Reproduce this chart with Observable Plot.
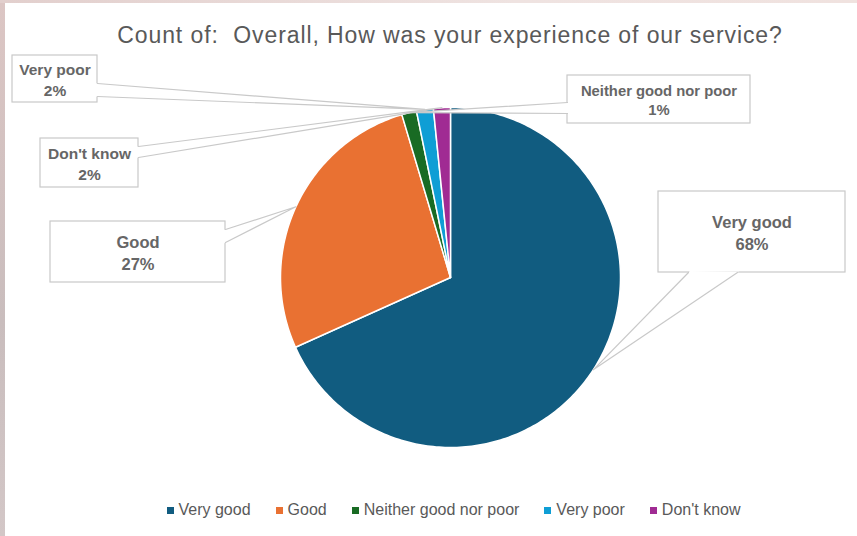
<!DOCTYPE html>
<html>
<head>
<meta charset="utf-8">
<script src="https://cdn.jsdelivr.net/npm/d3@7"></script>
<script src="https://cdn.jsdelivr.net/npm/@observablehq/plot@0.6"></script>
<style>
  html, body { margin: 0; padding: 0; background: #ffffff; }
  body { width: 857px; height: 536px; overflow: hidden; position: relative; font-family: "Liberation Sans", Arial, sans-serif; }
  #strip-left { position: absolute; left: 0; top: 0; width: 5px; height: 536px; background: linear-gradient(#dcc6c4, #c9bdbd 60%, #d3c7c7); }
  #strip-top { position: absolute; left: 0; top: 0; width: 857px; height: 3px; background: linear-gradient(90deg, #e2cfcd, #efe3e1 60%, #f0e2df); }
  #title { width: 900px; height: 28px; padding-top: 22px; line-height: 26px; text-align: center; font-size: 23px; letter-spacing: 0.9px; color: #595959; white-space: pre; }
  #chart { height: 440px; }
  #chart svg { display: block; }
  #legend { height: 46px; display: flex; align-items: center; justify-content: center; padding-left: 50px; box-sizing: border-box; width: 857px; margin-top: -3px; }
  #legend [class$="-swatch"] { margin-right: 25px !important; }
  #legend [class$="-swatch"]:last-child { margin-right: 0 !important; }
  #legend [class$="-swatch"] > svg { margin-right: 5px !important; }
  #legend > div { margin: 0 !important; min-height: 0 !important; }
</style>
</head>
<body>
<div id="title"></div>
<div id="chart"></div>
<div id="legend"></div>
<div id="strip-left"></div>
<div id="strip-top"></div>
<script>
// ---- data ----
const titleText = "Count of:  Overall, How was your experience of our service?";
const categories = ["Very good", "Good", "Neither good nor poor", "Very poor", "Don't know"];
const values = [68, 27, 1.4, 1.6, 1.6];
const percentLabels = ["68%", "27%", "1%", "2%", "2%"];
const colors = ["#115C80", "#E97132", "#196B24", "#0F9ED5", "#A02B93"];

// ---- layout (pixels within the svg) ----
const W = 857, H = 440, CX = 450, CY = 227, R = 170;
// callout boxes: [x0, y0, x1, y1], tail base points, font size
const calloutBoxes = [
  {box: [658, 141, 845, 222], base: [[688, 222], [737, 222]], size: 16.5},
  {box: [50, 171, 225, 232], base: [[225, 179], [225, 192]], size: 16.5},
  {box: [567, 25, 750, 73], base: [[567, 52], [567, 63]], size: 14.8},
  {box: [12, 5, 97, 52], base: [[97, 33], [97, 46]], size: 15.5},
  {box: [40, 88, 138, 137], base: [[138, 96], [138, 107]], size: 15.5}
];

document.getElementById("title").textContent = titleText;

// ---- slices ----
const total = d3.sum(values);
let acc = 0;
const slices = categories.map((c, i) => {
  const a0 = acc / total * 2 * Math.PI;
  acc += values[i];
  const a1 = acc / total * 2 * Math.PI;
  return {cat: c, a0, a1, mid: (a0 + a1) / 2};
});
const px = a => CX + R * Math.sin(a);
const py = a => CY - R * Math.cos(a);
const slicePts = [];
for (const s of slices) {
  slicePts.push({cat: s.cat, x: CX, y: CY});
  const n = Math.max(2, Math.ceil((s.a1 - s.a0) / (Math.PI / 180)));
  for (let k = 0; k <= n; k++) {
    const a = s.a0 + (s.a1 - s.a0) * k / n;
    slicePts.push({cat: s.cat, x: px(a), y: py(a)});
  }
}

// ---- callouts ----
const boxes = [], tailFill = [], tailLines = [], labels = [];
categories.forEach((c, i) => {
  const cb = calloutBoxes[i];
  const [x0, y0, x1, y1] = cb.box;
  boxes.push({x1: x0, x2: x1, y1: y0, y2: y1});
  const tip = {x: px(slices[i].mid), y: py(slices[i].mid)};
  const [b1, b2] = cb.base;
  const inward = b => {
    const dx = b[0] - tip.x, dy = b[1] - tip.y, l = Math.hypot(dx, dy);
    return [b[0] + dx / l * 2, b[1] + dy / l * 2];
  };
  const b1i = inward(b1), b2i = inward(b2);
  [b1i, b1, [tip.x, tip.y], b2, b2i].forEach(p => tailFill.push({id: c, x: p[0], y: p[1]}));
  [b1, [tip.x, tip.y], b2].forEach(p => tailLines.push({id: c, x: p[0], y: p[1]}));
  labels.push({x: (x0 + x1) / 2, y: (y0 + y1) / 2, text: c + "\n" + percentLabels[i], size: cb.size});
});

const chart = Plot.plot({
  width: W,
  height: H,
  margin: 0,
  x: {type: "linear", domain: [0, W], range: [0, W], axis: null},
  y: {type: "linear", domain: [0, H], range: [0, H], axis: null},
  color: {domain: categories, range: colors},
  style: {background: "transparent", overflow: "visible"},
  marks: [
    Plot.line(slicePts, {x: "x", y: "y", z: "cat", fill: "cat", stroke: "#ffffff", strokeWidth: 1.5, curve: "linear-closed"}),
    Plot.rect(boxes, {x1: "x1", x2: "x2", y1: "y1", y2: "y2", fill: "#ffffff", stroke: "#c9c9c9", strokeWidth: 1.2}),
    Plot.line(tailFill, {x: "x", y: "y", z: "id", fill: "#ffffff", stroke: "none", curve: "linear-closed"}),
    Plot.line(tailLines, {x: "x", y: "y", z: "id", stroke: "#c9c9c9", strokeWidth: 1.2}),
    Plot.text(labels, {x: "x", y: "y", text: "text", fontSize: d => d.size, fontWeight: "bold", fill: "#666666", lineHeight: 1.3, fontFamily: "Liberation Sans, Arial, sans-serif"})
  ]
});
document.getElementById("chart").appendChild(chart);

const legend = Plot.legend({
  color: {domain: categories, range: colors},
  legend: "swatches",
  swatchSize: 7,
  style: {fontSize: "16px", fontFamily: "Liberation Sans, Arial, sans-serif", color: "#595959", background: "transparent"}
});
document.getElementById("legend").appendChild(legend);
</script>
</body>
</html>
